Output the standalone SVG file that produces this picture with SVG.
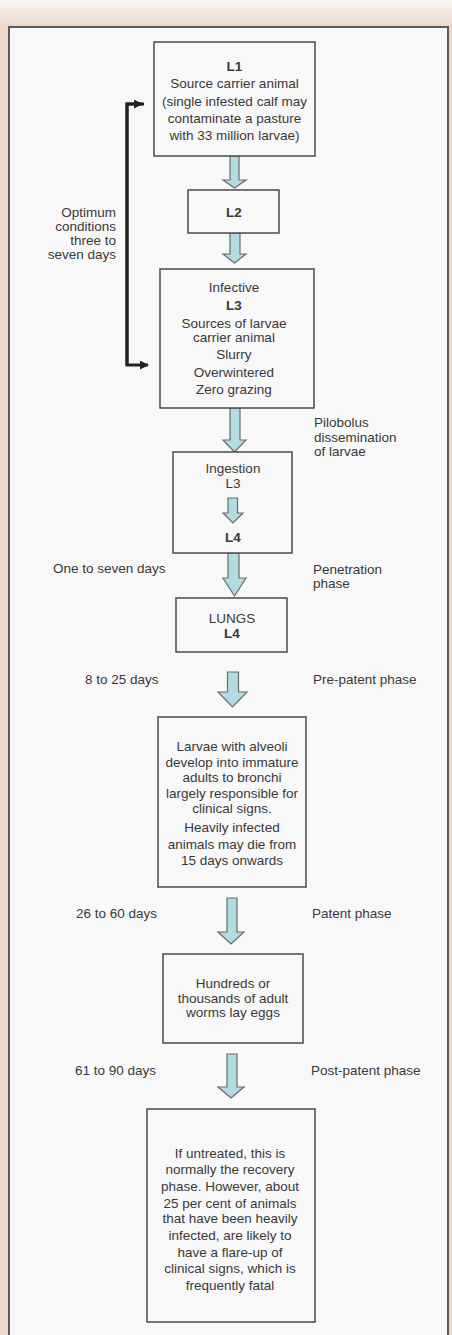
<svg xmlns="http://www.w3.org/2000/svg" width="452" height="1335" viewBox="0 0 452 1335">
<style>
text{font-family:"Liberation Sans",Arial,sans-serif;font-size:13.5px;fill:#383838}
.c{text-anchor:middle}
.e{text-anchor:end}
.b{font-weight:bold}
.box{fill:#f8f8f8;stroke:#4a4a4a;stroke-width:1.5}
.arr{fill:#b3dbe2;stroke:#6a6a6a;stroke-width:1.2;stroke-linejoin:miter}
.brk{fill:none;stroke:#222;stroke-width:3}
</style>
<defs>
<linearGradient id="bg" x1="0" y1="0" x2="0" y2="1">
<stop offset="0" stop-color="#fbf7f4"/>
<stop offset="1" stop-color="#ead8cb"/>
</linearGradient>
<marker id="ah" viewBox="0 0 10 10" refX="9" refY="5" markerWidth="3" markerHeight="3" orient="auto" markerUnits="strokeWidth">
<path d="M0,0 L10,5 L0,10 Z" fill="#222"/>
</marker>
</defs>
<rect x="0" y="0" width="452" height="1335" fill="#ead8cb"/>
<rect x="0" y="0" width="452" height="26" fill="url(#bg)"/>
<rect x="9" y="27" width="439" height="1320" fill="#f8f8f8" stroke="#5a5a5a" stroke-width="2"/>

<g id="connectors">
<path class="arr" d="M230,156 V180 H223 L234.5,188 L246,180 H239 V156 Z"/>
<path class="arr" d="M230,233 V254 H223 L234.5,263 L246,254 H240 V233 Z"/>
<path class="arr" d="M230,408 V440 H223 L234.5,452 L246,440 H240 V408 Z"/>
<path class="arr" d="M228,553 V578 H223 L234.5,596 L246,578 H239 V553 Z"/>
<path class="arr" d="M227.5,672 V692 H218 L232.5,707 L247,692 H238.5 V672 Z"/>
<path class="arr" d="M227,898 V932 H218 L231,944 L244,932 H237 V898 Z"/>
<path class="arr" d="M227,1054 V1087 H218 L231,1098 L244,1087 H237 V1054 Z"/>
<path class="brk" d="M144,104 H127 V365 H148" marker-end="url(#ah)"/>
<path class="brk" d="M127,365 V104 H142" marker-end="url(#ah)"/>
</g>

<g id="node-l1">
<rect class="box" x="154" y="42" width="161" height="114"/>
<text class="c b" x="234.5" y="71">L1</text>
<text class="c" x="234.5" y="88">Source carrier animal</text>
<text class="c" x="234.5" y="105.5">(single infested calf may</text>
<text class="c" x="234.5" y="123">contaminate a pasture</text>
<text class="c" x="234.5" y="140">with 33 million larvae)</text>
</g>

<g id="node-l2">
<rect class="box" x="188" y="190" width="91" height="43"/>
<text class="c b" x="234" y="217">L2</text>
</g>

<g id="label-optimum">
<text class="e" x="116" y="217">Optimum</text>
<text class="e" x="116" y="231">conditions</text>
<text class="e" x="116" y="245">three to</text>
<text class="e" x="116" y="259">seven days</text>
</g>

<g id="node-l3">
<rect class="box" x="160" y="269" width="154" height="139"/>
<text class="c" x="234" y="292">Infective</text>
<text class="c b" x="234" y="310">L3</text>
<text class="c" x="234" y="328">Sources of larvae</text>
<text class="c" x="234" y="342">carrier animal</text>
<text class="c" x="234" y="359">Slurry</text>
<text class="c" x="234" y="377">Overwintered</text>
<text class="c" x="234" y="394">Zero grazing</text>
</g>

<g id="label-pilobolus">
<text x="314" y="427">Pilobolus</text>
<text x="314" y="442">dissemination</text>
<text x="314" y="456">of larvae</text>
</g>

<g id="node-ingestion">
<rect class="box" x="173" y="452" width="119" height="101"/>
<text class="c" x="233" y="473">Ingestion</text>
<text class="c" x="233" y="488">L3</text>
<path class="arr" d="M228,498 V513 H223 L233,523 L243,513 H237.5 V498 Z"/>
<text class="c b" x="233" y="542">L4</text>
</g>

<g id="label-penetration">
<text x="53" y="573">One to seven days</text>
<text x="313" y="574">Penetration</text>
<text x="313" y="588">phase</text>
</g>

<g id="node-lungs">
<rect class="box" x="176" y="598" width="111" height="54"/>
<text class="c" x="232" y="623">LUNGS</text>
<text class="c b" x="232" y="638">L4</text>
</g>

<g id="label-prepatent">
<text x="85" y="684">8 to 25 days</text>
<text x="313" y="684">Pre-patent phase</text>
</g>

<g id="node-larvae">
<rect class="box" x="158" y="717" width="148" height="170"/>
<text class="c" x="232" y="751">Larvae with alveoli</text>
<text class="c" x="232" y="767">develop into immature</text>
<text class="c" x="232" y="782">adults to bronchi</text>
<text class="c" x="232" y="798">largely responsible for</text>
<text class="c" x="232" y="813">clinical signs.</text>
<text class="c" x="232" y="832">Heavily infected</text>
<text class="c" x="232" y="849">animals may die from</text>
<text class="c" x="232" y="865">15 days onwards</text>
</g>

<g id="label-patent">
<text x="76" y="918">26 to 60 days</text>
<text x="312" y="918">Patent phase</text>
</g>

<g id="node-adults">
<rect class="box" x="163" y="954" width="140" height="89"/>
<text class="c" x="233" y="988">Hundreds or</text>
<text class="c" x="233" y="1003">thousands of adult</text>
<text class="c" x="233" y="1017">worms lay eggs</text>
</g>

<g id="label-postpatent">
<text x="75" y="1075">61 to 90 days</text>
<text x="311" y="1075">Post-patent phase</text>
</g>

<g id="node-recovery">
<rect class="box" x="147" y="1109" width="168" height="213"/>
<text class="c" x="230" y="1158">If untreated, this is</text>
<text class="c" x="230" y="1174">normally the recovery</text>
<text class="c" x="230" y="1191">phase. However, about</text>
<text class="c" x="230" y="1208">25 per cent of animals</text>
<text class="c" x="230" y="1223">that have been heavily</text>
<text class="c" x="230" y="1240">infected, are likely to</text>
<text class="c" x="230" y="1257">have a flare-up of</text>
<text class="c" x="230" y="1273">clinical signs, which is</text>
<text class="c" x="230" y="1290">frequently fatal</text>
</g>
</svg>
